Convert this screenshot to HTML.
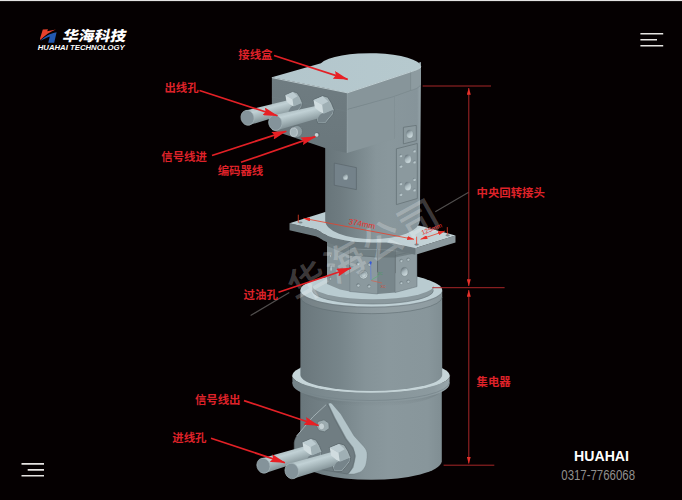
<!DOCTYPE html>
<html lang="zh">
<head>
<meta charset="utf-8">
<title>华海科技 - 中央回转接头</title>
<style>
html,body{margin:0;padding:0;background:#050001;}
body{width:682px;height:500px;overflow:hidden;position:relative;font-family:"Liberation Sans","Noto Sans CJK SC",sans-serif;}
#stage{position:absolute;left:0;top:0;width:682px;height:500px;display:block;}
.lbl{font-family:"Liberation Sans","Noto Sans CJK SC",sans-serif;font-weight:700;font-size:11.4px;fill:#de2229;}
.dim{font-family:"Liberation Sans",sans-serif;font-size:6.5px;fill:#e8302a;}
</style>
</head>
<body>
<svg id="stage" width="682" height="500" viewBox="0 0 682 500">
<defs>
<linearGradient id="gTop" x1="0" y1="0" x2="1" y2="0">
<stop offset="0" stop-color="#b3c6cc"/><stop offset="1" stop-color="#b6c9ce"/>
</linearGradient>
<linearGradient id="gCyl" x1="0" y1="0" x2="1" y2="0">
<stop offset="0" stop-color="#69767b"/><stop offset="0.08" stop-color="#6e7b80"/><stop offset="0.28" stop-color="#77858a"/><stop offset="0.46" stop-color="#859398"/><stop offset="0.62" stop-color="#8a989d"/><stop offset="0.9" stop-color="#88969b"/><stop offset="1" stop-color="#808e93"/>
</linearGradient>
<linearGradient id="gBody" x1="0" y1="0" x2="1" y2="0">
<stop offset="0" stop-color="#68757a"/><stop offset="0.15" stop-color="#6e7b80"/><stop offset="0.32" stop-color="#78868b"/><stop offset="0.53" stop-color="#87959a"/><stop offset="0.66" stop-color="#89979c"/><stop offset="0.96" stop-color="#86949a"/><stop offset="1" stop-color="#98a7ac"/>
</linearGradient>
<linearGradient id="gHole" x1="0.2" y1="0.05" x2="0.7" y2="0.95"><stop offset="0" stop-color="#66737a"/><stop offset="0.45" stop-color="#a9b8bd"/><stop offset="1" stop-color="#d0dde0"/></linearGradient>
<linearGradient id="gLeft" x1="0" y1="0" x2="0" y2="1"><stop offset="0" stop-color="#6f7c81"/><stop offset="1" stop-color="#6a777c"/></linearGradient>
<linearGradient id="gShadow" x1="0" y1="0" x2="0" y2="1"><stop offset="0" stop-color="#5f6b70" stop-opacity="0.55"/><stop offset="1" stop-color="#5f6b70" stop-opacity="0"/></linearGradient>
<linearGradient id="gRing" x1="0" y1="0" x2="1" y2="0"><stop offset="0" stop-color="#748287"/><stop offset="0.3" stop-color="#7f8d92"/><stop offset="0.5" stop-color="#87959a"/><stop offset="0.9" stop-color="#8c9a9f"/><stop offset="1" stop-color="#98a6ab"/></linearGradient>
<linearGradient id="gFl" x1="0" y1="0" x2="1" y2="0"><stop offset="0" stop-color="#b8cacf"/><stop offset="1" stop-color="#c5d4d8"/></linearGradient>
<!--CD-->
<linearGradient id="gc1" gradientUnits="userSpaceOnUse" x1="245.5" y1="110.5" x2="249.5" y2="125.1"><stop offset="0" stop-color="#b0c0c4"/><stop offset="0.25" stop-color="#c1d1d5"/><stop offset="0.6" stop-color="#a5b5b9"/><stop offset="1" stop-color="#839297"/></linearGradient>
<linearGradient id="gc2" gradientUnits="userSpaceOnUse" x1="273.4" y1="115.3" x2="277.2" y2="130.3"><stop offset="0" stop-color="#b0c0c4"/><stop offset="0.25" stop-color="#c1d1d5"/><stop offset="0.6" stop-color="#a5b5b9"/><stop offset="1" stop-color="#839297"/></linearGradient>
<linearGradient id="gc3" gradientUnits="userSpaceOnUse" x1="261.2" y1="458.4" x2="265.6" y2="473.0"><stop offset="0" stop-color="#b0c0c4"/><stop offset="0.25" stop-color="#c1d1d5"/><stop offset="0.6" stop-color="#a5b5b9"/><stop offset="1" stop-color="#839297"/></linearGradient>
<linearGradient id="gc4" gradientUnits="userSpaceOnUse" x1="289.6" y1="463.4" x2="294.0" y2="478.6"><stop offset="0" stop-color="#b0c0c4"/><stop offset="0.25" stop-color="#c1d1d5"/><stop offset="0.6" stop-color="#a5b5b9"/><stop offset="1" stop-color="#839297"/></linearGradient>
<!--/CD-->
</defs>
<rect x="0" y="0" width="682" height="500" fill="#050001"/>
<rect x="0" y="0" width="682" height="1" fill="#e4e2e2"/>
<rect x="0" y="1" width="682" height="0.4" fill="#3a3838"/>

<!--OBJECT-->
<g id="lower">
<!-- lower part below ring -->
<path d="M300.3,380 L300.3,461.5 A70.8,19 0 0 0 441.8,461.5 L441.8,380 Z" fill="url(#gCyl)"/>
<!-- ring -->
<ellipse cx="371" cy="375.5" rx="78.7" ry="17.3" fill="#c6d5d9"/>
<path d="M300.3,384 A70.8,18.3 0 0 0 441.8,384 L441.8,389 A70.8,18.3 0 0 1 300.3,389 Z" fill="url(#gShadow)"/>
<path d="M292.3,375.5 A78.7,17.3 0 0 0 449.7,375.5 L449.5,384 A78.5,18.3 0 0 1 292.5,384 Z" fill="url(#gRing)"/>
<path d="M292.5,382.2 A78.5,18.3 0 0 0 449.5,382.2" fill="none" stroke="#76848a" stroke-width="0.7"/>
<path d="M292.4,375.8 A78.7,17.3 0 0 0 449.6,375.8" fill="none" stroke="#c3d1d4" stroke-width="0.7"/>
<!-- main cylinder -->
<path d="M300.4,290 L300.4,375 A70.8,16 0 0 0 442.2,375 L442.2,290 Z" fill="url(#gCyl)"/>
<path d="M300.4,290 A70.9,16.6 0 0 0 442.2,290 L442.2,297 A70.9,16.7 0 0 1 300.4,297 Z" fill="#ffffff" opacity="0.07"/>
<path d="M300.4,297 A70.9,16.7 0 0 0 442.2,297" fill="none" stroke="#5f6c71" stroke-width="0.7" opacity="0.85"/>
<path d="M300.4,290.8 A70.9,16.6 0 0 0 442.2,290.8" fill="none" stroke="#6a777c" stroke-width="0.6" opacity="0.8"/>
<ellipse cx="371.3" cy="290" rx="70.9" ry="16.6" fill="#bfd0d5"/>
<!-- step disc -->
<path d="M312.4,285.7 L312.4,290.5 A60.5,13.5 0 0 0 433.4,290.5 L433.4,285.7 Z" fill="#8a989d"/>
<path d="M312.4,290.5 A60.5,13.5 0 0 0 433.4,290.5" fill="none" stroke="#6a777c" stroke-width="0.6"/>
<ellipse cx="372.9" cy="285.7" rx="60.5" ry="13.5" fill="#b9cbd0"/>
</g>

<g id="midblock">
<!-- faces -->
<path d="M327,232 L349.7,236 L349.7,291.5 L340,289.5 L327,284 Z" fill="#87959a"/>
<path d="M349.7,236 L377.6,238 L377.6,294 L349.7,291.5 Z" fill="#8b999e"/>
<path d="M377.6,238 L395.2,238 L395.2,292.5 L377.6,294 Z" fill="#78868b"/>
<path d="M395.2,238 L417,236 L417,286.6 L395.2,292.5 Z" fill="#8e9ca1"/>
<path d="M349.7,255 L377.6,257 L377.6,294 L349.7,291.5 Z M395.2,255.5 L417,250.5 L417,286.6 L395.2,292.5 Z" fill="none" stroke="#5f6c71" stroke-width="0.6" opacity="0.8"/>
<!-- holes mid face -->
<g fill="url(#gHole)" stroke="#6d7a7e" stroke-width="0.5">
<circle cx="363.4" cy="274.5" r="4.4"/>
<circle cx="363.4" cy="274.5" r="2.8" stroke="#8a989c"/>
<circle cx="358.2" cy="263.7" r="1.7"/><circle cx="369.5" cy="264.4" r="1.7"/>
<circle cx="358.2" cy="285.3" r="1.7"/><circle cx="369" cy="286.3" r="1.7"/>
<ellipse cx="404.5" cy="271.8" rx="3.5" ry="4.4"/>
<circle cx="401.3" cy="260.8" r="1.6"/><circle cx="408.2" cy="259.5" r="1.6"/>
<circle cx="401.3" cy="283" r="1.6"/><circle cx="408.2" cy="281.5" r="1.6"/>
<ellipse cx="330.3" cy="256" rx="1" ry="1.5"/><ellipse cx="331" cy="268" rx="1.3" ry="3.2"/><ellipse cx="330.3" cy="278.5" rx="1" ry="1.5"/>
</g>
</g>
<g id="triad" fill="none" stroke-width="0.6">
<path d="M370.6,263 L371,280" stroke="#5a7ae0"/>
<path d="M369.6,262.2 C369.8,260.8 371.4,260.8 371.6,262.2 L371.2,264.4 L370,264.4 Z" fill="#3558d6" stroke="none"/>
<path d="M371.3,280 L378.5,275.8" stroke="#58b070"/>
<path d="M371.3,280.6 L382,283" stroke="#e0553f"/>
</g>
<text x="380.5" y="287.6" font-family='"Liberation Sans",sans-serif' font-size="3.6" fill="#d8442f">XC</text>
<text x="377.8" y="275.4" font-family='"Liberation Sans",sans-serif' font-size="3.6" fill="#3f9e5a">ZC</text>
<g id="flange">
<!-- shadow under flange on mid block -->
<path d="M327,238 C335,246 352,250 372,250 C380,250 388,250 395.2,251.5 L417,249 L417,253 L395.2,257.5 L377.6,257.5 L349.7,255.5 L327,246 Z" fill="#5d696d" opacity="0.55"/>
<!-- side faces -->
<path d="M289.5,223.2 L314.5,228.9 C320,230.5 321,232.5 324,234 C335,239.5 352,242.5 372,242.5 C380,242.5 386,242.3 392,243 L415.5,248.1 L415.5,254.8 L392,249.8 C386,249 380,249.2 372,249.2 C352,249.2 335,246.2 324,240.7 C321,239.3 320,237.5 314.5,236 L289.5,230.2 Z" fill="#6b787d"/>
<path d="M415.5,248.1 L455.5,235.6 L455.5,242.6 L415.5,254.8 Z" fill="#8b989d"/>
<!-- top face -->
<path d="M289.5,223.2 L325.2,212 L420,225.7 L455.5,235.6 L415.5,248.1 L392,243 C386,242.3 380,242.5 372,242.5 C352,242.5 335,239.5 324,234 C321,232.5 320,230.5 314.5,228.9 Z" fill="url(#gFl)"/>
<ellipse cx="300.5" cy="222.6" rx="2" ry="1" fill="#7c8a8e"/>
<ellipse cx="416.6" cy="244.6" rx="2.2" ry="1.1" fill="#7c8a8e"/>
<ellipse cx="447.7" cy="235.3" rx="2.2" ry="1.1" fill="#7c8a8e"/>
</g>
<g id="body">
<path d="M325.2,90 L325.2,220.5 A47.3,18.7 0 0 0 419.9,220.5 L421,62 Z" fill="url(#gBody)"/>
</g>

<g id="bodyPanels">
<path d="M334.3,163.1 L356.4,167.6 L356.4,189.6 L334.3,185.2 Z" fill="#74828a" stroke="#5a666b" stroke-width="0.7"/>
<ellipse cx="345.4" cy="176.9" rx="2.5" ry="2.9" fill="url(#gHole)" stroke="#74828680" stroke-width="0.5"/>
<path d="M403.4,127.3 L416.3,125.4 L416.3,140.6 L403.4,143.9 Z" fill="#8c9a9f" stroke="#616e73" stroke-width="0.7"/>
<ellipse cx="409.7" cy="134" rx="3.3" ry="4.1" fill="url(#gHole)" stroke="#74828680" stroke-width="0.5"/>
<path d="M396.4,148.8 L417.3,143.5 L417.3,198.5 L396.4,204.6 Z" fill="#8b999e" stroke="#616e73" stroke-width="0.7"/>
<g fill="url(#gHole)" stroke="#74828680" stroke-width="0.4">
<ellipse cx="407.8" cy="159" rx="3.3" ry="4.3"/>
<ellipse cx="407.8" cy="186.2" rx="3.3" ry="4.3"/>
<circle cx="400.8" cy="155.8" r="1.5"/><circle cx="414.4" cy="151" r="1.5"/><circle cx="400.8" cy="166.3" r="1.5"/><circle cx="414.4" cy="162" r="1.5"/>
<circle cx="400.8" cy="183.7" r="1.5"/><circle cx="414.4" cy="179.5" r="1.5"/><circle cx="400.8" cy="194.4" r="1.5"/><circle cx="414.4" cy="190" r="1.5"/>
</g>
</g>
<g id="box">
<!-- left face -->
<path d="M271.9,77.3 L347.3,92.5 L347,153 L326.5,148.5 L271.9,130 Z" fill="url(#gLeft)"/>
<path d="M271.9,97 L347.3,111.4" stroke="#72808599" stroke-width="0.8" fill="none"/>
<!-- right-front face below seam -->
<path d="M347.3,109.4 L394.5,97 L394.6,138.8 L347,153 Z" fill="#88969b"/>
<!-- lid band -->
<path d="M347.3,92.5 L410.6,71.6 L410.6,90.5 L393,96.8 L347.3,109.4 Z" fill="#87959a"/>
<path d="M410.6,71.6 C417,69.5 421,67 421,65 L420.7,85 C419,88 414,89.6 410.6,90.5 Z" fill="#8d9ba0"/>
<path d="M347.3,109.4 L393,96.8 L410.6,90.5 C414,89.6 419,88 420.7,85" stroke="#72808599" stroke-width="0.8" fill="none"/>
<path d="M410.6,71.6 L410.6,90.5" stroke="#7a888d" stroke-width="0.7"/>
<path d="M394.5,97 L394.6,138.8" stroke="#7a888d99" stroke-width="0.7"/>
<path d="M347.3,92.5 L347.1,153" stroke="#a5b5ba99" stroke-width="0.7"/>
<!-- top face -->
<path d="M271.9,77.3 L347.3,92.5 L410.6,71.6 C416,69.8 420.6,68.5 421,66.5 A51,13.8 0 0 0 321,63.2 Z" fill="url(#gTop)"/>
<path d="M271.9,77.6 L347.3,92.8 L410.6,71.9 C416,70 420,68.8 421,66.8" fill="none" stroke="#cddce0" stroke-width="0.8"/>
<!-- small fitting & hole -->
<ellipse cx="297" cy="131.5" rx="5.5" ry="6" fill="#8b9a9f" stroke="#5f6c70" stroke-width="0.7"/>
<ellipse cx="293.8" cy="132.2" rx="3.6" ry="4.3" fill="#a6b5ba" stroke="#cfd9dc" stroke-width="0.7"/>
<circle cx="317.3" cy="134.5" r="2.5" fill="#5f6c70"/>
<circle cx="316.6" cy="134.9" r="1.9" fill="#c8d3d6"/>
</g>

<!--CT-->
<g id="cablesTop">
<g transform="translate(294.1,100.2) scale(0.81)">
<polygon points="-11.4,-6.3 -1.5,-10.6 3.8,-9.0 7.5,-3.0 10.2,3.6 9.2,8.2 1.5,17.5 -6.5,17.3 -8.2,12.0 -8.6,2.0 -9.5,-3.0" fill="#a3b2b6" stroke="#59656a" stroke-width="0.8"/>
</g>
<path d="M245.5,110.5 L288.9,100.0 L292.1,112.0 L249.5,125.1 Z" fill="url(#gc1)"/>
<ellipse cx="247.5" cy="117.8" rx="6.5" ry="7.6" transform="rotate(-15.3 247.5 117.8)" fill="#84939a" stroke="#a8b7bc" stroke-width="0.6"/>
<g transform="translate(294.1,100.2) scale(0.81)">
<polygon points="-1.5,7.0 0.2,7.0 8.3,3.9 9.3,4.4 8.1,7.9 1.1,16.5 -5.9,16.5 -6.8,13.2 -4.2,8.8" fill="#76848a"/>
<polygon points="-2,-1.3 4.2,-4.8 8.3,3.9 0.2,7.6 -0.8,7.6" fill="#9fafb4"/>
<polygon points="-10.8,-6.2 -1.5,-10 4.2,-4.8 -2,-1.3" fill="#bccbd0"/>
<polygon points="-10.8,-6.2 -2,-1.3 -0.8,7.6 -4.6,5.5 -9.4,1.6" fill="#d0dcdf"/>
</g>
<g transform="translate(324.1,106.1) scale(0.98)">
<polygon points="-11.4,-6.3 -1.5,-10.6 3.8,-9.0 7.5,-3.0 10.2,3.6 9.2,8.2 1.5,17.5 -6.5,17.3 -8.2,12.0 -8.6,2.0 -9.5,-3.0" fill="#a3b2b6" stroke="#59656a" stroke-width="0.8"/>
</g>
<path d="M273.4,115.3 L318.0,105.6 L321.0,117.6 L277.2,130.3 Z" fill="url(#gc2)"/>
<ellipse cx="275.3" cy="122.8" rx="6.6" ry="7.7" transform="rotate(-14.2 275.3 122.8)" fill="#84939a" stroke="#a8b7bc" stroke-width="0.6"/>
<g transform="translate(324.1,106.1) scale(0.98)">
<polygon points="-1.5,7.0 0.2,7.0 8.3,3.9 9.3,4.4 8.1,7.9 1.1,16.5 -5.9,16.5 -6.8,13.2 -4.2,8.8" fill="#76848a"/>
<polygon points="-2,-1.3 4.2,-4.8 8.3,3.9 0.2,7.6 -0.8,7.6" fill="#9fafb4"/>
<polygon points="-10.8,-6.2 -1.5,-10 4.2,-4.8 -2,-1.3" fill="#bccbd0"/>
<polygon points="-10.8,-6.2 -2,-1.3 -0.8,7.6 -4.6,5.5 -9.4,1.6" fill="#d0dcdf"/>
</g>
</g>
<!--/CT-->
<g id="bracket">
<path d="M327.2,404 C328.3,402.6 329.7,402.6 331,404 L339.6,414 L352.9,436 L362.5,446.5 C364.8,449 365.9,451.5 365.9,454 C365.9,459 365.4,462 364.4,465.5 C363,469 361,471 358.7,472.2 L352.9,474 L347.2,474 L352,467.4 L354.5,456 L352,447.4 L345.3,438.8 L333.9,417.9 Z" fill="#b3c4c9" stroke="#66737780" stroke-width="0.6" transform="translate(1.2,0)"/>
<path d="M326.3,404.5 C326.8,403.8 327.2,403.6 327.6,404.2 L333.9,417.9 L345.3,438.8 L352,447.4 C353.8,450 354.5,453 354.5,456 C354.5,460 353.5,464 352,467.4 C350.8,470 349,472.5 347.2,474 L300,466 C296,462 294.2,455 294.2,448.4 C294.2,446 294.2,444.5 294.2,442.7 C294.6,440 295.5,438 296.7,436 L312.9,416.9 Z" fill="#707d82" stroke="#5c686d" stroke-width="0.6"/>
<path d="M326.3,404.5 L312.9,416.9 L296.7,436" fill="none" stroke="#b5c3c7" stroke-width="0.8"/>
<!-- bolt -->
<path d="M318,421.5 L324,419.8 L328.8,423 L329.2,428.5 L324.5,431.8 L318.8,430.5 L316.5,426 Z" fill="#9dacb0" stroke="#5f6c70" stroke-width="0.7"/>
<ellipse cx="321.6" cy="426.4" rx="3" ry="3.4" fill="#c5d1d4" stroke="#7a888c" stroke-width="0.5"/>
</g>

<!--CB-->
<g id="cablesBot">
<g transform="translate(312.4,448.3) scale(0.92)">
<polygon points="-11.4,-6.3 -1.5,-10.6 3.8,-9.0 7.5,-3.0 10.2,3.6 9.2,8.2 1.5,17.5 -6.5,17.3 -8.2,12.0 -8.6,2.0 -9.5,-3.0" fill="#a3b2b6" stroke="#59656a" stroke-width="0.8"/>
</g>
<path d="M261.2,458.4 L306.6,445.7 L310.4,458.3 L265.6,473.0 Z" fill="url(#gc3)"/>
<ellipse cx="263.4" cy="465.7" rx="6.5" ry="7.6" transform="rotate(-16.9 263.4 465.7)" fill="#84939a" stroke="#a8b7bc" stroke-width="0.6"/>
<g transform="translate(312.4,448.3) scale(0.92)">
<polygon points="-1.5,7.0 0.2,7.0 8.3,3.9 9.3,4.4 8.1,7.9 1.1,16.5 -5.9,16.5 -6.8,13.2 -4.2,8.8" fill="#76848a"/>
<polygon points="-2,-1.3 4.2,-4.8 8.3,3.9 0.2,7.6 -0.8,7.6" fill="#9fafb4"/>
<polygon points="-10.8,-6.2 -1.5,-10 4.2,-4.8 -2,-1.3" fill="#bccbd0"/>
<polygon points="-10.8,-6.2 -2,-1.3 -0.8,7.6 -4.6,5.5 -9.4,1.6" fill="#d0dcdf"/>
</g>
<g transform="translate(340.5,454)">
<polygon points="-11.4,-6.3 -1.5,-10.6 3.8,-9.0 7.5,-3.0 10.2,3.6 9.2,8.2 1.5,17.5 -6.5,17.3 -8.2,12.0 -8.6,2.0 -9.5,-3.0" fill="#a3b2b6" stroke="#59656a" stroke-width="0.8"/>
</g>
<path d="M289.6,463.4 L334.5,451.2 L338.5,464.4 L294.0,478.6 Z" fill="url(#gc4)"/>
<ellipse cx="291.8" cy="471" rx="6.8" ry="7.9" transform="rotate(-16.5 291.8 471)" fill="#84939a" stroke="#a8b7bc" stroke-width="0.6"/>
<g transform="translate(340.5,454)">
<polygon points="-1.5,7.0 0.2,7.0 8.3,3.9 9.3,4.4 8.1,7.9 1.1,16.5 -5.9,16.5 -6.8,13.2 -4.2,8.8" fill="#76848a"/>
<polygon points="-2,-1.3 4.2,-4.8 8.3,3.9 0.2,7.6 -0.8,7.6" fill="#9fafb4"/>
<polygon points="-10.8,-6.2 -1.5,-10 4.2,-4.8 -2,-1.3" fill="#bccbd0"/>
<polygon points="-10.8,-6.2 -2,-1.3 -0.8,7.6 -4.6,5.5 -9.4,1.6" fill="#d0dcdf"/>
</g>
</g>
<!--/CB-->
<!--OBJ5-->

<!--ANNOT-->
<g id="watermark" font-family='"Liberation Sans","Noto Sans CJK SC",sans-serif' font-size="40" font-weight="500" fill="#ffffff" fill-opacity="0.24">
<text transform="translate(298,305) rotate(-29.4)" letter-spacing="2.2">华海公司</text>
<path d="M250.6,315.5 L289.3,292.6 M435.3,211.7 L468.7,192.3" stroke="#ffffff" stroke-opacity="0.3" stroke-width="1.2" fill="none"/>
</g>
<g id="arrows" stroke="#e32026" stroke-width="1.7" fill="#e32026">
<defs>
<marker id="ah" viewBox="0 0 15 8" refX="14.5" refY="4" markerWidth="15" markerHeight="8" markerUnits="userSpaceOnUse" orient="auto"><path d="M0,0 L15,4 L0,8 L2,4 Z" fill="#e81f24" stroke="none"/></marker>
<marker id="as" viewBox="0 0 7 4" refX="6.8" refY="2" markerWidth="7" markerHeight="4" markerUnits="userSpaceOnUse" orient="auto"><path d="M0,0 L7,2 L0,4 Z" fill="#e8302a" stroke="none"/></marker>
<marker id="as2" viewBox="0 0 7 4" refX="0.2" refY="2" markerWidth="7" markerHeight="4" markerUnits="userSpaceOnUse" orient="auto"><path d="M7,0 L0,2 L7,4 Z" fill="#e8302a" stroke="none"/></marker>
</defs>
<path d="M274,55.5 L347.7,79.4" marker-end="url(#ah)"/>
<path d="M199.5,90.5 L277.5,115.8" marker-end="url(#ah)"/>
<path d="M212,155.5 L286.3,131.2" marker-end="url(#ah)"/>
<path d="M241,162.3 L315.4,136.6" marker-end="url(#ah)"/>
<path d="M278.5,292.3 L351,268" marker-end="url(#ah)"/>
<path d="M244,400.6 L318.6,425.5" marker-end="url(#ah)"/>
<path d="M211,438.3 L284.9,462.7" marker-end="url(#ah)"/>
</g>
<g id="dims" stroke="#b0282a" stroke-width="0.95" fill="none">
<path d="M422.7,86 L491,86"/>
<path d="M432.3,287.7 L504.6,287.7"/>
<path d="M443.6,465.2 L494.3,465.2"/>
<path d="M468.8,88 L468.8,286" marker-start="url(#as2)" marker-end="url(#as)"/>
<path d="M468.8,290 L468.8,463.5" marker-start="url(#as2)" marker-end="url(#as)"/>
</g>
<g id="dims2" stroke="#e8402a" stroke-width="0.8" fill="none">
<path d="M298.3,214.7 L298.3,222.7 M416.6,236.7 L416.6,244.4 M447.3,227.1 L447.3,234.5"/>
<path d="M303.5,218.3 L414,239.3" marker-start="url(#as2)" marker-end="url(#as)"/>
<path d="M420.6,239.3 L444.8,231.1" marker-start="url(#as2)" marker-end="url(#as)"/>
</g>
<text class="dim" font-size="8" transform="translate(361.4,226.5) rotate(11)" text-anchor="middle" style="font-size:8px">374mm</text>
<text class="dim" transform="translate(432.5,231) rotate(-22)" text-anchor="middle" style="font-size:6.5px">125mm</text>
<g class="lbl">
<text x="238.3" y="58.6">接线盒</text>
<text x="164.4" y="92.4">出线孔</text>
<text x="161.3" y="161.2">信号线进</text>
<text x="217.7" y="175.3">编码器线</text>
<text x="476.5" y="197">中央回转接头</text>
<text x="243.6" y="299">过油孔</text>
<text x="476.5" y="386">集电器</text>
<text x="194.9" y="403.5">信号线出</text>
<text x="172.3" y="441.6">进线孔</text>
</g>
<!-- logo -->
<g id="logo">
<path d="M42.8,29.5 L48,29.3 L47.2,31.3 L55.8,29.4 C50,31.6 45,35 40.3,40 L40,38.4 Z" fill="#e8412c"/>
<path d="M56.6,32.2 L54.2,42.7 L48.2,42.7 L49.8,36.6 C46,38 43,39.5 40.2,41 C45,36 50,33.5 56.6,32.2 Z" fill="#2258b0"/>
<text x="62" y="41.2" font-family='"Liberation Sans","Noto Sans CJK SC",sans-serif' font-weight="900" font-size="14.2" fill="#ffffff" transform="translate(62 41.2) skewX(-12) translate(-62 -41.2)" textLength="63.5" lengthAdjust="spacingAndGlyphs">华海科技</text>
<text x="37.7" y="50.3" font-family='"Liberation Sans",sans-serif' font-weight="700" font-style="italic" font-size="8" fill="#ffffff" textLength="87" lengthAdjust="spacingAndGlyphs">HUAHAI TECHNOLOGY</text>
</g>
<g id="menus" stroke="#e6e4e2" stroke-width="1.6" fill="none">
<path d="M640.4,33.7 L663.2,33.7 M640.4,39.8 L657,39.8 M640.4,45.7 L663.2,45.7"/>
<path d="M21.5,463.9 L44,463.9 M27.7,469.9 L44,469.9 M21.5,475.7 L44,475.7"/>
</g>
<text x="574" y="461" font-family='"Liberation Sans",sans-serif' font-weight="700" font-size="14.6" fill="#ffffff" textLength="55" lengthAdjust="spacingAndGlyphs">HUAHAI</text>
<text x="561.3" y="479.8" font-family='"Liberation Sans",sans-serif' font-size="13.8" fill="#918f8d" textLength="73.7" lengthAdjust="spacingAndGlyphs">0317-7766068</text>

<!--/ANNOT-->

</svg>
</body>
</html>
